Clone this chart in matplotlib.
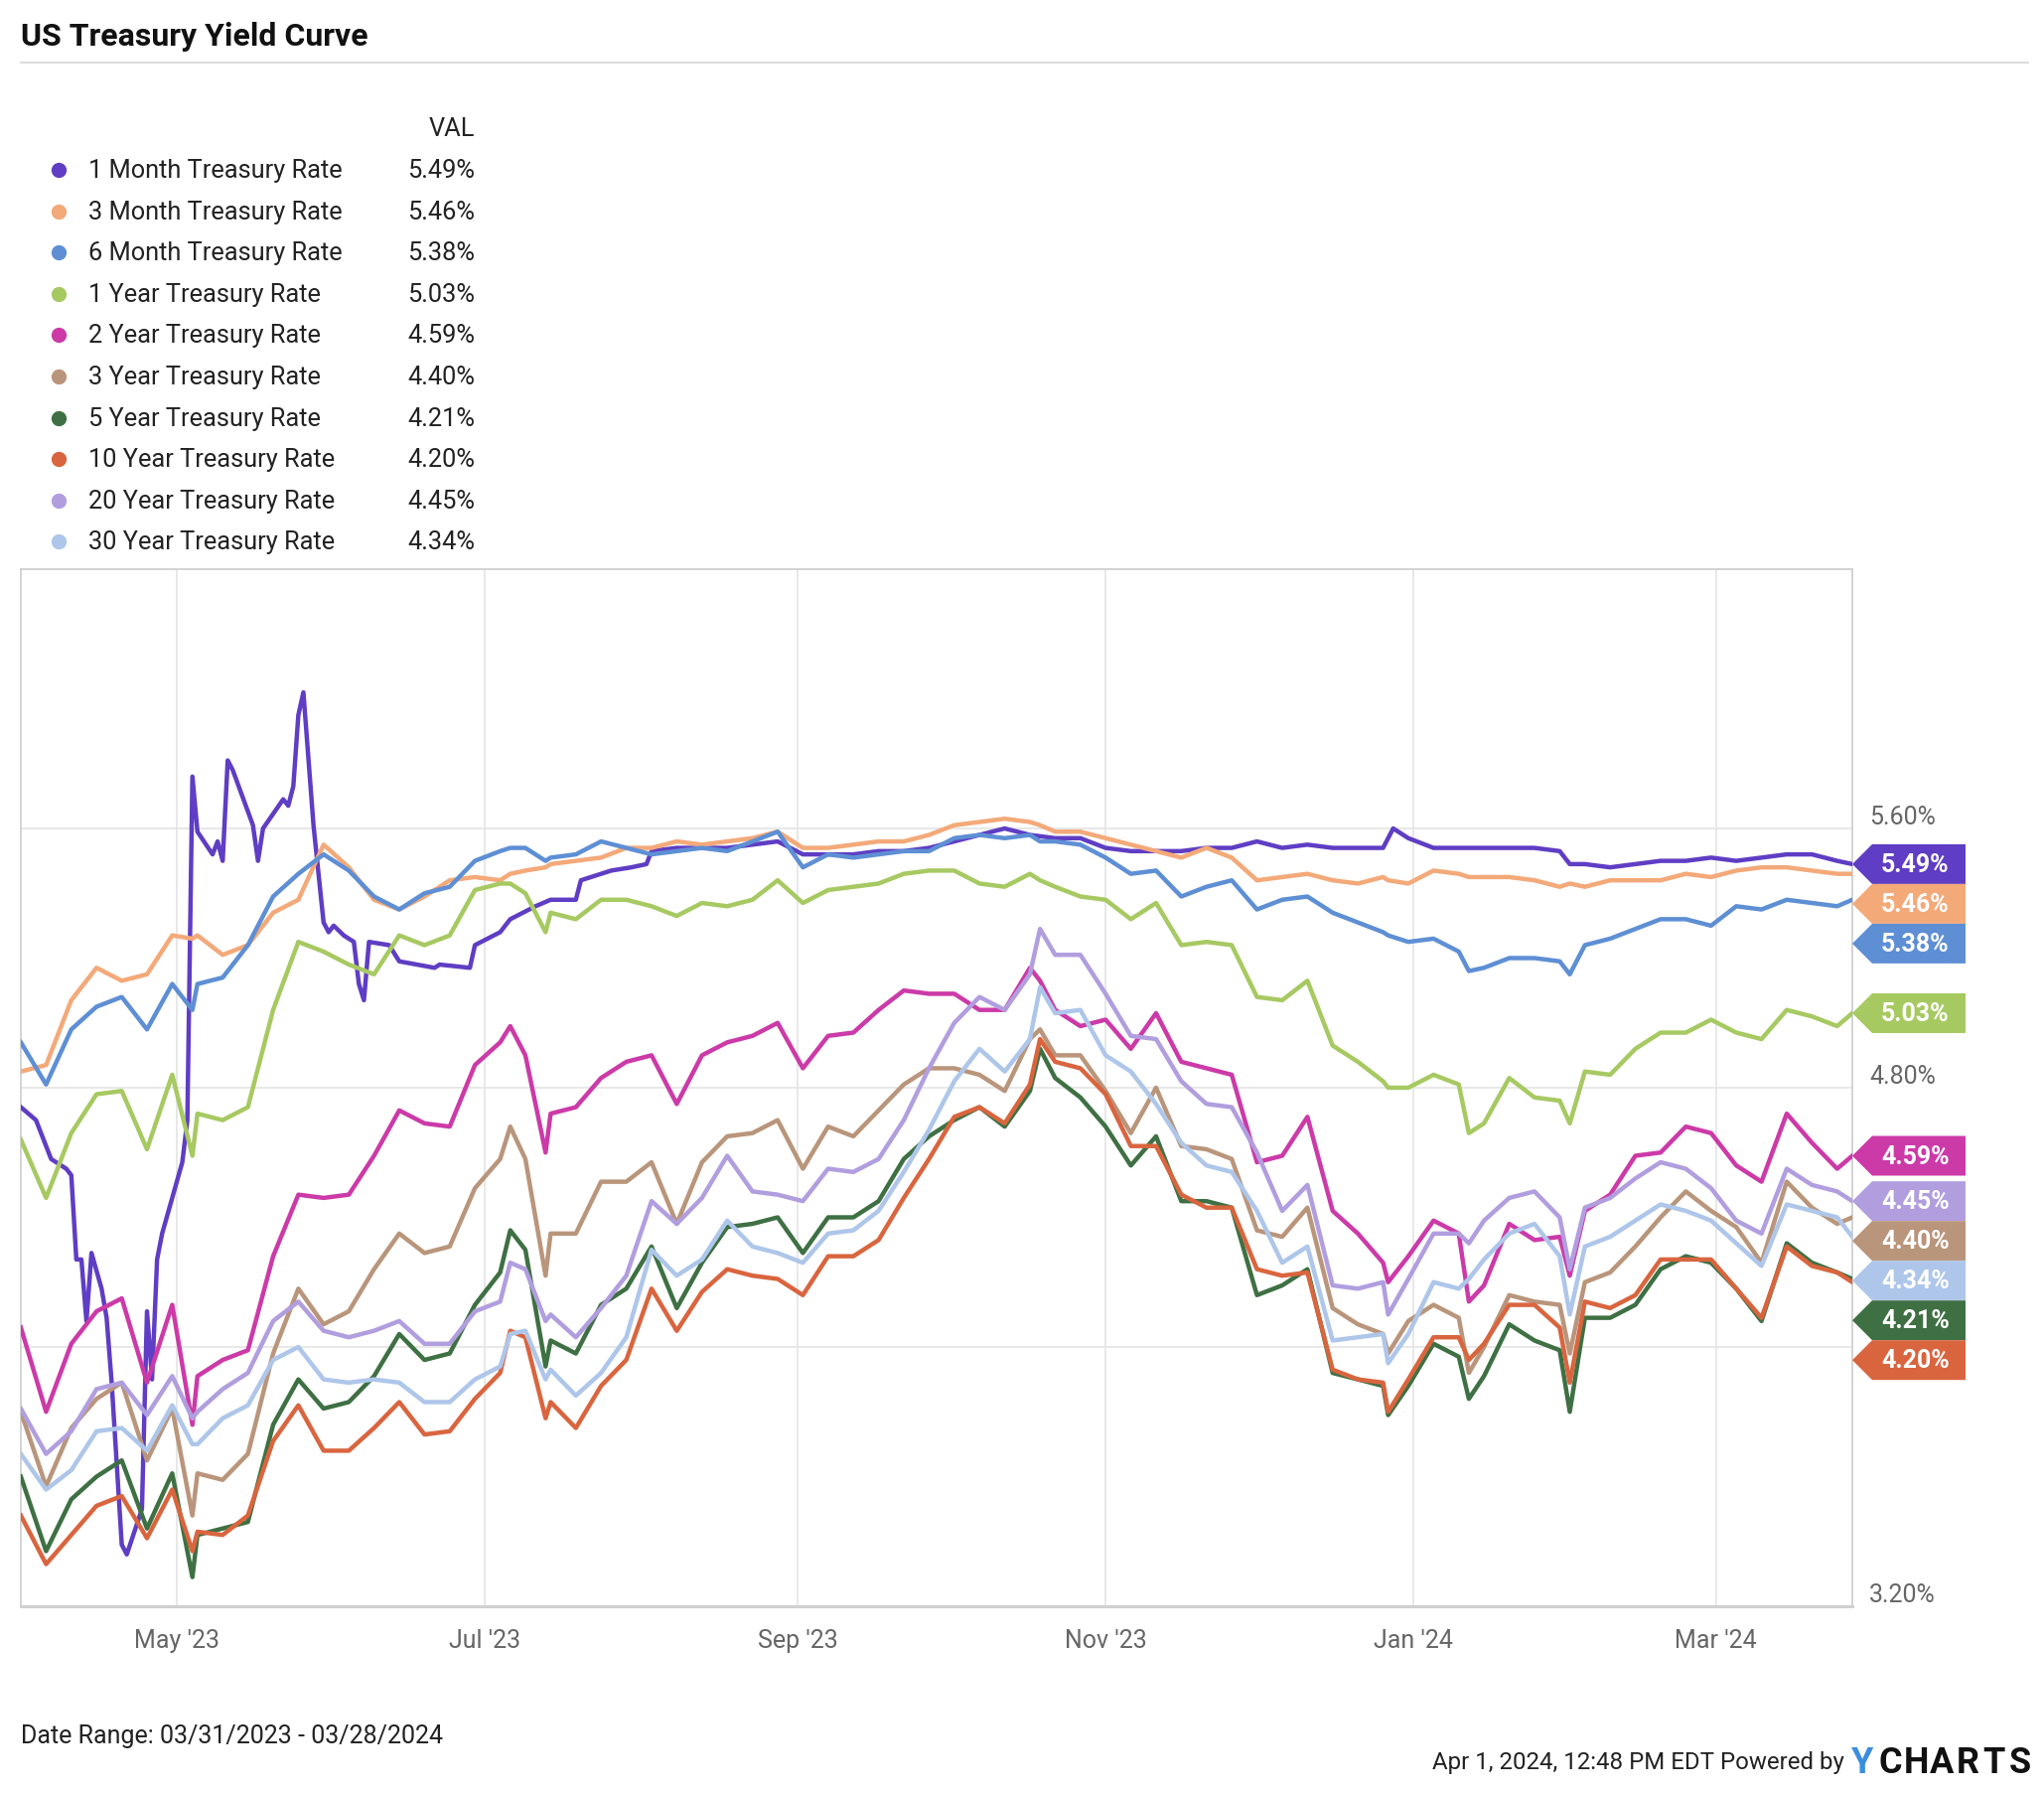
import numpy as np
import matplotlib.pyplot as plt
import matplotlib.dates as mdates
from matplotlib.patches import Polygon
from matplotlib.lines import Line2D
from matplotlib.transforms import blended_transform_factory

plt.rcParams['font.family'] = ['Roboto', 'DejaVu Sans']

start = np.datetime64('2023-03-31')

days = [0, 5, 10, 15, 20, 25, 30, 34, 35, 40, 45, 50, 55, 60, 65, 70, 75, 80, 85, 90,
        95, 97, 100, 104, 105, 110, 115, 120, 125, 130, 135, 140, 145, 150, 155, 160,
        165, 170, 175, 180, 185, 190, 195, 200, 202, 205, 210, 215, 220, 225, 230, 235,
        240, 245, 250, 255, 260, 265, 270, 271, 275, 280, 285, 287, 290, 295, 300, 305,
        307, 310, 315, 320, 325, 330, 335, 340, 345, 350, 355, 360, 363]

# the 1 month rate moves on its own, so it has its own day list
m1_days = [0, 3, 6, 9, 10, 11, 12, 13, 14, 16, 17, 18, 20, 21, 24, 25, 26, 27, 28, 30,
           32, 33, 34, 35, 38, 39, 40, 41, 42, 46, 47, 48, 52, 53, 54, 55, 56, 58, 60, 61,
           62, 64, 66, 67, 68, 69, 73, 75, 82, 83, 89, 90, 95, 97, 102, 105, 110, 111, 117, 121,
           124, 125, 130, 135, 140, 145, 150, 155, 160, 165, 170, 175, 180, 185, 190, 195, 200, 205, 210, 215,
           220, 225, 230, 235, 240, 245, 250, 255, 260, 265, 270, 272, 275, 280, 285, 290, 295, 300, 305, 307,
           310, 315, 320, 325, 330, 335, 340, 345, 350, 355, 360, 363]
m1 = [4.74, 4.70, 4.58, 4.55, 4.53, 4.27, 4.27, 4.08, 4.29, 4.18, 4.09, 3.89, 3.39, 3.36, 3.50, 4.11, 3.90, 4.27, 4.35, 4.46,
      4.57, 4.70, 5.76, 5.59, 5.52, 5.56, 5.50, 5.81, 5.78, 5.61, 5.50, 5.60, 5.69, 5.67, 5.73, 5.95, 6.02, 5.61, 5.31, 5.28,
      5.30, 5.27, 5.25, 5.12, 5.07, 5.25, 5.24, 5.19, 5.17, 5.18, 5.17, 5.24, 5.28, 5.32, 5.36, 5.38, 5.38, 5.44, 5.47, 5.48,
      5.49, 5.53, 5.54, 5.54, 5.54, 5.55, 5.56, 5.52, 5.52, 5.52, 5.53, 5.53, 5.54, 5.56, 5.58, 5.60, 5.58, 5.57, 5.57, 5.54,
      5.53, 5.53, 5.53, 5.54, 5.54, 5.56, 5.54, 5.55, 5.54, 5.54, 5.54, 5.60, 5.57, 5.54, 5.54, 5.54, 5.54, 5.54, 5.53, 5.49,
      5.49, 5.48, 5.49, 5.50, 5.50, 5.51, 5.50, 5.51, 5.52, 5.52, 5.50, 5.49]

m3 = [4.85, 4.87, 5.07, 5.17, 5.13, 5.15, 5.27, 5.26, 5.27, 5.21, 5.24, 5.34, 5.38, 5.55, 5.48, 5.38, 5.35, 5.39, 5.44, 5.45,
      5.44, 5.46, 5.47, 5.48, 5.49, 5.50, 5.51, 5.54, 5.54, 5.56, 5.55, 5.56, 5.57, 5.59, 5.54, 5.54,
      5.55, 5.56, 5.56, 5.58, 5.61, 5.62, 5.63, 5.62, 5.61, 5.59, 5.59, 5.57, 5.55, 5.53, 5.51, 5.54,
      5.51, 5.44, 5.45, 5.46, 5.44, 5.43, 5.45, 5.44, 5.43, 5.47, 5.46, 5.45, 5.45, 5.45, 5.44, 5.42,
      5.43, 5.42, 5.44, 5.44, 5.44, 5.46, 5.45, 5.47, 5.48, 5.48, 5.47, 5.46, 5.46]
m6 = [4.94, 4.81, 4.98, 5.05, 5.08, 4.98, 5.12, 5.04, 5.12, 5.14, 5.24, 5.39, 5.46, 5.52, 5.47, 5.39, 5.35, 5.40, 5.42, 5.50,
      5.53, 5.54, 5.54, 5.50, 5.51, 5.52, 5.56, 5.54, 5.52, 5.53, 5.54, 5.53, 5.56, 5.59, 5.48, 5.52,
      5.51, 5.52, 5.53, 5.53, 5.57, 5.58, 5.57, 5.58, 5.56, 5.56, 5.55, 5.51, 5.46, 5.47, 5.39, 5.42,
      5.44, 5.35, 5.38, 5.39, 5.34, 5.31, 5.28, 5.27, 5.25, 5.26, 5.22, 5.16, 5.17, 5.20, 5.20, 5.19,
      5.15, 5.24, 5.26, 5.29, 5.32, 5.32, 5.30, 5.36, 5.35, 5.38, 5.37, 5.36, 5.38]
y1 = [4.64, 4.46, 4.66, 4.78, 4.79, 4.61, 4.84, 4.59, 4.72, 4.70, 4.74, 5.04, 5.25, 5.22, 5.18, 5.15, 5.27, 5.24, 5.27, 5.41,
      5.43, 5.43, 5.40, 5.28, 5.34, 5.32, 5.38, 5.38, 5.36, 5.33, 5.37, 5.36, 5.38, 5.44, 5.37, 5.41,
      5.42, 5.43, 5.46, 5.47, 5.47, 5.43, 5.42, 5.46, 5.44, 5.42, 5.39, 5.38, 5.32, 5.37, 5.24, 5.25,
      5.24, 5.08, 5.07, 5.13, 4.93, 4.88, 4.82, 4.80, 4.80, 4.84, 4.81, 4.66, 4.69, 4.83, 4.77, 4.76,
      4.69, 4.85, 4.84, 4.92, 4.97, 4.97, 5.01, 4.97, 4.95, 5.04, 5.02, 4.99, 5.03]
y2 = [4.06, 3.80, 4.01, 4.11, 4.15, 3.89, 4.13, 3.76, 3.91, 3.96, 3.99, 4.28, 4.47, 4.46, 4.47, 4.59, 4.73, 4.69, 4.68, 4.87,
      4.94, 4.99, 4.90, 4.60, 4.72, 4.74, 4.83, 4.88, 4.90, 4.75, 4.90, 4.94, 4.96, 5.00, 4.86, 4.96,
      4.97, 5.04, 5.10, 5.09, 5.09, 5.04, 5.04, 5.17, 5.13, 5.04, 4.99, 5.01, 4.92, 5.03, 4.88, 4.86,
      4.84, 4.57, 4.59, 4.71, 4.42, 4.35, 4.26, 4.20, 4.28, 4.39, 4.35, 4.14, 4.19, 4.38, 4.33, 4.34,
      4.22, 4.42, 4.47, 4.59, 4.60, 4.68, 4.66, 4.56, 4.51, 4.72, 4.63, 4.55, 4.59]
y3 = [3.80, 3.57, 3.75, 3.84, 3.89, 3.65, 3.81, 3.48, 3.61, 3.59, 3.67, 3.98, 4.18, 4.07, 4.11, 4.24, 4.35, 4.29, 4.31, 4.49,
      4.58, 4.68, 4.58, 4.22, 4.35, 4.35, 4.51, 4.51, 4.57, 4.38, 4.57, 4.65, 4.66, 4.70, 4.55, 4.68,
      4.65, 4.73, 4.81, 4.86, 4.86, 4.84, 4.79, 4.95, 4.98, 4.90, 4.90, 4.79, 4.66, 4.80, 4.62, 4.61,
      4.58, 4.36, 4.34, 4.43, 4.12, 4.07, 4.04, 3.98, 4.08, 4.13, 4.09, 3.92, 4.00, 4.16, 4.14, 4.13,
      3.98, 4.20, 4.23, 4.31, 4.40, 4.48, 4.42, 4.37, 4.26, 4.51, 4.43, 4.38, 4.40]
y5 = [3.60, 3.37, 3.53, 3.60, 3.65, 3.44, 3.61, 3.29, 3.42, 3.44, 3.46, 3.76, 3.90, 3.81, 3.83, 3.91, 4.04, 3.96, 3.98, 4.13,
      4.23, 4.36, 4.30, 3.94, 4.02, 3.98, 4.13, 4.18, 4.31, 4.12, 4.26, 4.37, 4.38, 4.40, 4.29, 4.40,
      4.40, 4.45, 4.58, 4.65, 4.70, 4.74, 4.68, 4.79, 4.92, 4.83, 4.77, 4.68, 4.56, 4.65, 4.45, 4.45,
      4.43, 4.16, 4.19, 4.24, 3.92, 3.90, 3.88, 3.79, 3.88, 4.01, 3.97, 3.84, 3.91, 4.07, 4.02, 3.99,
      3.80, 4.09, 4.09, 4.13, 4.24, 4.28, 4.26, 4.18, 4.08, 4.32, 4.26, 4.23, 4.21]
y10 = [3.48, 3.33, 3.42, 3.51, 3.54, 3.41, 3.56, 3.37, 3.43, 3.42, 3.48, 3.71, 3.82, 3.68, 3.68, 3.75, 3.83, 3.73, 3.74, 3.84,
       3.92, 4.05, 4.03, 3.78, 3.83, 3.75, 3.88, 3.96, 4.18, 4.05, 4.17, 4.24, 4.22, 4.21, 4.16, 4.28,
       4.28, 4.33, 4.46, 4.58, 4.71, 4.74, 4.69, 4.81, 4.95, 4.88, 4.86, 4.78, 4.62, 4.62, 4.47, 4.43,
       4.43, 4.24, 4.22, 4.23, 3.93, 3.90, 3.89, 3.80, 3.90, 4.03, 4.03, 3.96, 4.01, 4.13, 4.13, 4.06,
       3.89, 4.14, 4.12, 4.16, 4.27, 4.27, 4.27, 4.18, 4.09, 4.31, 4.25, 4.23, 4.20]
y20 = [3.81, 3.67, 3.74, 3.87, 3.89, 3.79, 3.91, 3.78, 3.80, 3.87, 3.92, 4.08, 4.14, 4.05, 4.03, 4.05, 4.08, 4.01, 4.01, 4.11,
       4.14, 4.26, 4.24, 4.08, 4.10, 4.03, 4.12, 4.22, 4.45, 4.38, 4.46, 4.59, 4.48, 4.47, 4.45, 4.55,
       4.54, 4.58, 4.70, 4.86, 5.00, 5.08, 5.04, 5.15, 5.29, 5.21, 5.21, 5.09, 4.96, 4.95, 4.82, 4.75,
       4.74, 4.60, 4.42, 4.50, 4.19, 4.18, 4.20, 4.10, 4.21, 4.35, 4.35, 4.32, 4.39, 4.46, 4.48, 4.40,
       4.24, 4.43, 4.46, 4.52, 4.57, 4.55, 4.49, 4.39, 4.35, 4.55, 4.50, 4.48, 4.45]
y30 = [3.67, 3.56, 3.62, 3.74, 3.75, 3.68, 3.82, 3.70, 3.70, 3.78, 3.82, 3.96, 4.00, 3.90, 3.89, 3.90, 3.89, 3.83, 3.83, 3.90,
       3.94, 4.04, 4.05, 3.90, 3.93, 3.85, 3.92, 4.03, 4.30, 4.22, 4.27, 4.39, 4.31, 4.29, 4.26, 4.35,
       4.36, 4.42, 4.54, 4.67, 4.82, 4.92, 4.85, 4.95, 5.11, 5.03, 5.04, 4.90, 4.85, 4.75, 4.63, 4.56,
       4.54, 4.42, 4.26, 4.31, 4.02, 4.03, 4.04, 3.95, 4.04, 4.20, 4.18, 4.21, 4.27, 4.35, 4.38, 4.28,
       4.10, 4.31, 4.34, 4.39, 4.44, 4.42, 4.39, 4.32, 4.25, 4.44, 4.42, 4.40, 4.34]

names = ['1 Month Treasury Rate', '3 Month Treasury Rate', '6 Month Treasury Rate',
         '1 Year Treasury Rate', '2 Year Treasury Rate', '3 Year Treasury Rate',
         '5 Year Treasury Rate', '10 Year Treasury Rate', '20 Year Treasury Rate',
         '30 Year Treasury Rate']
colors = ['#5f3dc4', '#f4a979', '#5e8fd5', '#a7c962', '#cc3aa8', '#b9957b',
          '#3e7043', '#d9653f', '#b19edf', '#aec6ea']
values = [m1, m3, m6, y1, y2, y3, y5, y10, y20, y30]
day_lists = [m1_days] + [days] * 9

tick_dates = ['2023-05-01', '2023-07-01', '2023-09-01', '2023-11-01', '2024-01-01', '2024-03-01']
tick_labels = ["May '23", "Jul '23", "Sep '23", "Nov '23", "Jan '24", "Mar '24"]
y_ticks = [3.2, 4.0, 4.8, 5.6]
# 4.00% sits under the value tags in the original, so only these are readable
y_tick_text = [3.2, 4.8, 5.6]

W, H = 2058, 1806


def fx(px):
    return px / W


def fy(py):
    return 1 - py / H


fig = plt.figure(figsize=(W / 100, H / 100), dpi=100)
ax = fig.add_axes([fx(21), fy(1618), fx(1865) - fx(21), fy(574) - fy(1618)])

for d, v, c in zip(day_lists, values, colors):
    x = start + np.array(d).astype('timedelta64[D]')
    ax.plot(mdates.date2num(x), v, color=c, lw=3.2, solid_joinstyle='round', zorder=3)

ax.set_yticks(y_ticks)
ax.set_xticks(mdates.date2num(np.array(tick_dates, dtype='datetime64[D]')))
ax.set_xticklabels(tick_labels)
ax.tick_params(axis='x', length=0, pad=16, labelsize=18, labelcolor='#666666')
ax.tick_params(axis='y', length=0, labelleft=False)
ax.grid(True, color='#e6e6e6', lw=1.3)
ax.set_axisbelow(True)
for s in ax.spines.values():
    s.set_color('#d0d0d0')
    s.set_linewidth(1.3)
ax.spines['bottom'].set_linewidth(2.2)

trans = blended_transform_factory(ax.transAxes, ax.transData)
ppu = 1044 / 3.2  # pixels per percentage point
aw = 1844.0       # axes width in pixels

for v in y_tick_text:
    ax.text(1 + 17 / aw, v + 12 / ppu, f'{v:.2f}%', transform=trans, ha='left', va='center',
            fontsize=18, color='#666666', clip_on=False, zorder=1)

# value tags on the right edge, pushed down when they collide
last = [v[-1] for v in values]
order = sorted(range(len(values)), key=lambda i: -last[i])
gap = 40 / ppu
half = 20 / ppu
xl, xr = 1 + 20 / aw, 1 + 114 / aw
prev = None
for i in order:
    y = last[i]
    if prev is not None and y > prev - gap:
        y = prev - gap
    prev = y
    poly = Polygon([[1.0, y], [xl, y + half], [xr, y + half], [xr, y - half], [xl, y - half]],
                   closed=True, transform=trans, facecolor=colors[i], edgecolor='none',
                   clip_on=False, zorder=10)
    ax.add_patch(poly)
    ax.text((xl + xr) / 2 - 0.002, y, f'{last[i]:.2f}%', transform=trans, color='white',
            fontsize=18, fontweight='bold', ha='center', va='center', zorder=11, clip_on=False)

ax.set_xlim(mdates.date2num(start), mdates.date2num(start + np.timedelta64(363, 'D')))
ax.set_ylim(3.2, 6.4)

# title and rule
fig.text(fx(21), fy(37), 'US Treasury Yield Curve', fontsize=23, fontweight='bold',
         color='#111111', va='center')
fig.add_artist(Line2D([fx(21), fx(2042)], [fy(64), fy(64)], color='#dddddd', lw=1.5,
                      transform=fig.transFigure))

# legend
fig.text(fx(478), fy(130), 'VAL', ha='right', va='center', fontsize=18.3, color='#222222')
for i, (n, c) in enumerate(zip(names, colors)):
    ry = 172 + 41.6 * i
    fig.add_artist(Line2D([fx(59)], [fy(ry)], marker='o', ms=10, color=c, ls='none',
                          transform=fig.transFigure))
    fig.text(fx(89), fy(ry), n, ha='left', va='center', fontsize=18.3, color='#222222')
    fig.text(fx(478), fy(ry), f'{last[i]:.2f}%', ha='right', va='center', fontsize=18.3,
             color='#222222')

# footer
fig.text(fx(21), fy(1748), 'Date Range: 03/31/2023 - 03/28/2024', ha='left', va='center',
         fontsize=18, color='#222222')
fig.text(fx(1857), fy(1775), 'Apr 1, 2024, 12:48 PM EDT Powered by', ha='right', va='center',
         fontsize=17.3, color='#222222')
fig.text(fx(1875), fy(1775), 'Y', ha='center', va='center', fontsize=26, fontweight='bold',
         color='#3a8ee0')
for k, ch in enumerate('CHARTS'):
    fig.text(fx(1903 + 26.2 * k), fy(1775), ch, ha='center', va='center', fontsize=26,
             fontweight='bold', color='#111111')

fig.savefig('out.png', dpi=100, facecolor='white')
